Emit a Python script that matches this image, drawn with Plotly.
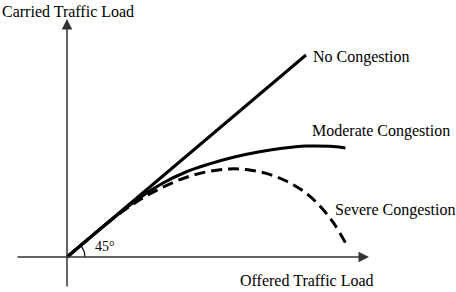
import numpy as np
import plotly.graph_objects as go

# Data (offered load vs carried load, arbitrary units)
no_x = [0, 10]
no_y = [0, 10]

mod_x = [0, 1, 2, 3, 4, 5, 6, 7, 8, 9, 10, 11, 11.65]
mod_y = [0, 1, 1.98, 2.9, 3.65, 4.22, 4.62, 4.95, 5.2, 5.38, 5.49, 5.48, 5.40]

sev_x = [0, 1, 2, 3, 4, 5, 6, 6.8, 7.5, 8.3, 9.1, 9.9, 10.6, 11.2, 11.65]
sev_y = [0, 1, 1.97, 2.8, 3.45, 3.95, 4.25, 4.36, 4.33, 4.15, 3.8, 3.25, 2.5, 1.6, 0.7]

labels = ["No Congestion", "Moderate Congestion", "Severe Congestion"]
x_title = "Offered Traffic Load"
y_title = "Carried Traffic Load"
angle_text = "45°"

# pixel scale helpers (px per data unit)
SX, SY = 23.9, 20.2
OX, OY = 67, 257  # origin pixel
W, H = 456, 292

def dx(px):
    return (px - OX) / SX

def dy(py):
    return (OY - py) / SY

FONT = "Liberation Serif, Times New Roman, DejaVu Serif, serif"
INK = "#000000"

fig = go.Figure()

fig.add_trace(go.Scatter(x=no_x, y=no_y, mode="lines",
                         line=dict(color=INK, width=3), hoverinfo="skip"))
fig.add_trace(go.Scatter(x=mod_x, y=mod_y, mode="lines", line_shape="spline",
                         line=dict(color=INK, width=3), hoverinfo="skip"))
fig.add_trace(go.Scatter(x=sev_x, y=sev_y, mode="lines", line_shape="spline",
                         line=dict(color=INK, width=3, dash="11px,6px"), hoverinfo="skip"))

# angle arc
ang = np.radians(np.linspace(0, 40.2, 30))
r = 18
fig.add_trace(go.Scatter(x=r * np.cos(ang) / SX, y=r * np.sin(ang) / SY, mode="lines",
                         line=dict(color=INK, width=1.2), hoverinfo="skip"))

AX = "#333333"
# axes with arrows
fig.add_annotation(x=dx(369), y=0, ax=dx(16), ay=0, xref="x", yref="y", axref="x", ayref="y",
                   showarrow=True, arrowhead=2, arrowsize=1.4, arrowwidth=1.5,
                   arrowcolor=AX, standoff=0, startstandoff=0, text="")
fig.add_annotation(x=0, y=dy(19), ax=0, ay=dy(288), xref="x", yref="y", axref="x", ayref="y",
                   showarrow=True, arrowhead=2, arrowsize=1.4, arrowwidth=1.5,
                   arrowcolor=AX, standoff=0, startstandoff=0, text="")

def label(text, px, py, size=16, anchor="left"):
    fig.add_annotation(x=dx(px), y=dy(py), xref="x", yref="y", text=text, showarrow=False,
                       xanchor=anchor, yanchor="middle",
                       font=dict(family=FONT, size=size, color=INK))

label(y_title, 0, 11)
label(x_title, 238, 280)
label(labels[0], 311, 57)
label(labels[1], 310, 131)
label(labels[2], 333, 210)
label(angle_text, 93, 246, size=14)

fig.update_layout(
    width=W, height=H, margin=dict(l=0, r=0, t=0, b=0),
    paper_bgcolor="white", plot_bgcolor="white", showlegend=False,
    xaxis=dict(range=[dx(0), dx(W)], visible=False, fixedrange=True),
    yaxis=dict(range=[dy(H), dy(0)], visible=False, fixedrange=True),
)

fig.write_html("out.html")
